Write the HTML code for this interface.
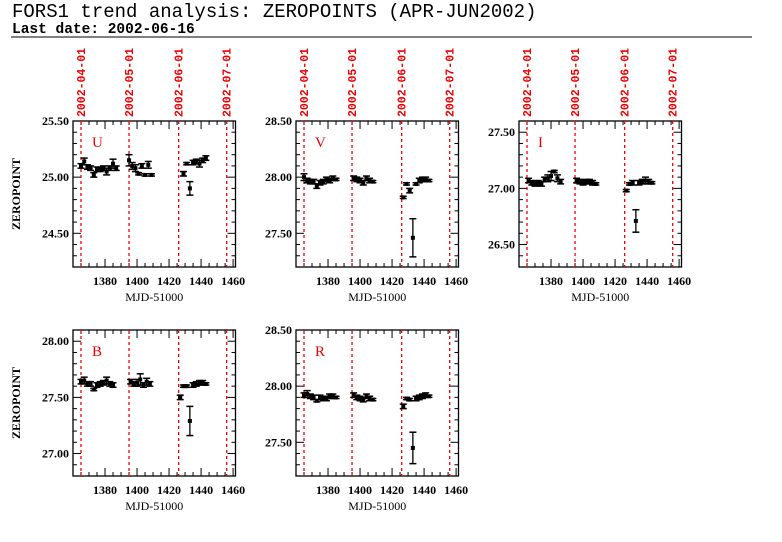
<!DOCTYPE html>
<html><head><meta charset="utf-8">
<style>
body{margin:0;background:#fff;width:782px;height:542px;overflow:hidden}
svg{display:block}
text{font-family:"Liberation Serif",serif}
</style></head><body>
<svg id="c" width="782" height="542" xmlns="http://www.w3.org/2000/svg">
<text x="12" y="17" font-size="19" style="font-family:'Liberation Mono',monospace">FORS1 trend analysis: ZEROPOINTS (APR-JUN2002)</text>
<text x="12" y="33" font-size="14.5" font-weight="bold" style="font-family:'Liberation Mono',monospace">Last date: 2002-06-16</text>
<line x1="11" y1="37" x2="752" y2="37" stroke="#000" stroke-width="1"/>
</svg>
<script>
const filters=['U','V','I','B','R'];
const yTop=[25.5,28.5,27.6,28.1,28.5];
const yBot=[24.2,27.2,26.3,26.8,27.2];
const yTicks=[[25.0,24.5,25.5],[28.5,28.0,27.5],[27.5,27.0,26.5],[28.0,27.5,27.0],[28.5,28.0,27.5]];
const xTicks=[1380,1400,1420,1440,1460];
const dateLabels=['2002-04-01','2002-05-01','2002-06-01','2002-07-01'];
const dateMjd=[1365,1395,1426,1456];
const mjdU=[1365,1367,1369,1371,1373,1375,1377,1379,1381,1383,1385,1387,1395,1397,1399,1401,1403,1405,1407,1409,1429,1431,1433,1435,1437,1439,1441,1443];
const valU=[25.10,25.14,25.09,25.08,25.02,25.07,25.07,25.08,25.05,25.08,25.12,25.08,25.15,25.10,25.08,25.03,25.10,25.02,25.11,25.02,25.03,25.12,24.90,25.13,25.14,25.12,25.15,25.17];
const errU=[.02,.03,.02,.02,.02,.02,.02,.02,.03,.02,.04,.02,.05,.03,.03,.01,.02,.01,.03,.01,.02,.01,.06,.02,.02,.03,.02,.02];
const mjdV=[1365,1367,1369,1371,1373,1375,1377,1379,1381,1383,1385,1396,1398,1400,1402,1404,1406,1408,1427,1429,1431,1433,1435,1437,1439,1441,1443];
const valV=[28.00,27.97,27.96,27.96,27.92,27.95,27.96,27.98,27.97,27.99,27.98,27.99,27.98,27.97,27.95,27.99,27.97,27.96,27.82,27.94,27.88,27.46,27.94,27.97,27.98,27.98,27.97];
const errV=[.03,.02,.02,.02,.02,.02,.02,.02,.02,.02,.01,.02,.02,.02,.02,.02,.02,.01,.01,.01,.02,.17,.01,.02,.02,.02,.01];
const mjdI=[1366,1368,1370,1372,1374,1376,1378,1380,1382,1384,1386,1396,1398,1400,1402,1404,1406,1408,1427,1429,1431,1433,1435,1437,1439,1441,1443];
const valI=[27.07,27.05,27.04,27.05,27.04,27.08,27.09,27.11,27.15,27.09,27.06,27.07,27.06,27.05,27.06,27.06,27.05,27.04,26.98,27.04,27.05,26.71,27.05,27.06,27.07,27.06,27.05];
const errI=[.02,.02,.02,.02,.02,.02,.03,.04,.01,.03,.02,.02,.02,.02,.02,.02,.02,.01,.01,.01,.02,.1,.02,.02,.03,.02,.01];
const mjdB=[1365,1367,1369,1371,1373,1375,1377,1379,1381,1383,1385,1396,1398,1400,1402,1404,1406,1408,1427,1429,1431,1433,1435,1437,1439,1441,1443];
const valB=[27.64,27.65,27.62,27.62,27.57,27.61,27.62,27.63,27.65,27.62,27.61,27.64,27.62,27.63,27.66,27.61,27.64,27.62,27.50,27.60,27.60,27.29,27.61,27.62,27.63,27.63,27.62];
const errB=[.02,.03,.02,.02,.01,.02,.02,.02,.03,.02,.02,.02,.02,.03,.05,.02,.03,.02,.02,.01,.01,.13,.02,.02,.02,.02,.01];
const mjdR=[1365,1367,1369,1371,1373,1375,1377,1379,1381,1383,1385,1396,1398,1400,1402,1404,1406,1408,1427,1429,1431,1433,1435,1437,1439,1441,1443];
const valR=[27.92,27.93,27.91,27.90,27.87,27.90,27.89,27.89,27.91,27.91,27.90,27.92,27.90,27.89,27.88,27.91,27.89,27.88,27.82,27.89,27.88,27.45,27.89,27.90,27.91,27.92,27.91];
const errR=[.02,.03,.02,.02,.01,.02,.02,.02,.02,.02,.01,.02,.02,.02,.02,.02,.02,.01,.02,.01,.01,.14,.02,.02,.02,.02,.01];
const series=[[mjdU,valU,errU],[mjdV,valV,errV],[mjdI,valI,errI],[mjdB,valB,errB],[mjdR,valR,errR]];

const NS='http://www.w3.org/2000/svg';
const svg=document.getElementById('c');
function mk(tag,attrs,parent){const e=document.createElementNS(NS,tag);for(const k in attrs)e.setAttribute(k,attrs[k]);(parent||svg).appendChild(e);return e;}
const origins=[[73,121],[296,121],[519,121],[73,330],[296,330]];
const W=162.5,H=146,X0=1360,X1=1461.5;
filters.forEach((f,i)=>{
  const [ox,oy]=origins[i];
  const g=mk('g',{});
  
  
  const sx=v=>ox+(v-X0)/(X1-X0)*W;
  const sy=v=>oy+(yTop[i]-v)/(yTop[i]-yBot[i])*H;
  const box=mk('rect',{x:ox,y:oy,width:W,height:H,fill:'none',stroke:'#000','stroke-width':1.3},g);
  
  
  for(let m=1360;m<=1460;m+=5){const x=sx(m);const L=(m%20===0)?8:4;
    mk('line',{x1:x,y1:oy+H,x2:x,y2:oy+H-L,stroke:'#000'},g);
    mk('line',{x1:x,y1:oy,x2:x,y2:oy+L,stroke:'#000'},g);}
  xTicks.forEach(t=>{const tl=mk('text',{x:sx(t),y:oy+H+18,'font-size':12,'font-weight':'bold','text-anchor':'middle'},g);tl.textContent=t;
    
    });
  for(let v=Math.ceil(yBot[i]*10);v<=Math.floor(yTop[i]*10+0.001);v++){const y=sy(v/10);const L=(v%5===0)?8:4;
    mk('line',{x1:ox,y1:y,x2:ox+L,y2:y,stroke:'#000'},g);
    mk('line',{x1:ox+W,y1:y,x2:ox+W-L,y2:y,stroke:'#000'},g);}
  yTicks[i].forEach(t=>{const tl=mk('text',{x:ox-4,y:sy(t)+4,'font-size':12,'font-weight':'bold','text-anchor':'end'},g);tl.textContent=t.toFixed(2);
    
    });
  dateMjd.forEach((d,j)=>{const x=sx(d);
    const dl=mk('line',{x1:x,y1:oy,x2:x,y2:oy+H,stroke:'#e00','stroke-dasharray':'3,3','stroke-width':1.3},g);
    
    
    if(oy===121){
      const t=mk('text',{x:0,y:0,'font-size':11.5,fill:'#e00','font-weight':'bold',transform:`translate(${x+4},${oy-4}) rotate(-90)`,style:"font-family:'Liberation Mono',monospace"},g);t.textContent=dateLabels[j];
      
      
    }});
  const fl=mk('text',{x:ox+19,y:oy+26,'font-size':15,fill:'#e00'},g);fl.textContent=f;
  
  
  const xl=mk('text',{x:ox+W/2,y:oy+H+34,'font-size':12,'text-anchor':'middle'},g);xl.textContent='MJD-51000';
  
  
  if(ox===73){const yl=mk('text',{x:0,y:0,'font-size':12,'font-weight':'bold','text-anchor':'middle',transform:`translate(${ox-53},${oy+H/2}) rotate(-90)`},g);yl.textContent='ZEROPOINT';
    
    }
  const [ms,vs,es]=series[i];
  ms.forEach((m,k)=>{const x=sx(m),y=sy(vs[k]),y1=sy(vs[k]+es[k]),y2=sy(vs[k]-es[k]);
    const pg=mk('g',{},g);
    
    
    mk('line',{x1:x,y1:y1,x2:x,y2:y2,stroke:'#000','stroke-width':1.3},pg);
    mk('line',{x1:x-3.5,y1:y1,x2:x+3.5,y2:y1,stroke:'#000','stroke-width':1.5},pg);
    mk('line',{x1:x-3.5,y1:y2,x2:x+3.5,y2:y2,stroke:'#000','stroke-width':1.5},pg);
    mk('rect',{x:x-2,y:y-2,width:4,height:4,fill:'#000'},pg);});
});
</script>
</body></html>
